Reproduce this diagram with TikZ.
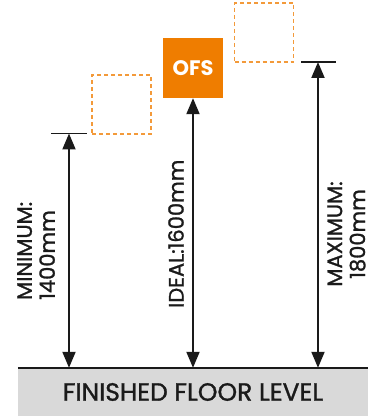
\documentclass[tikz,border=0pt]{standalone}
\usepackage{fontspec}
\setmainfont{Poppins}[UprightFeatures={FakeBold=1.2}]
\usetikzlibrary{arrows.meta}
\definecolor{ofsorange}{HTML}{EF7D00}
\definecolor{dashorange}{HTML}{F39A3A}
\definecolor{floorgray}{HTML}{D9D9D9}
\definecolor{inkdark}{HTML}{1A1A1A}

\begin{document}
\begin{tikzpicture}[
        x=1pt, y=1pt,
        ghost/.style={rectangle, draw=dashorange, line width=1.5pt, dash pattern=on 4pt off 3pt, minimum size=59pt, inner sep=0pt},
        ofsbox/.style={rectangle, fill=ofsorange, text=white, minimum size=60pt, inner sep=0pt, font=\fontsize{21}{23}\selectfont\bfseries},
        dim/.style={draw=inkdark, line width=2pt, {Triangle[length=16pt,width=13pt]}-{Triangle[length=16pt,width=13pt]}},
        tick/.style={draw=inkdark, line width=1.5pt},
        label_text/.style={rotate=90, inner sep=0pt, text=inkdark, font=\fontsize{21}{23}\selectfont}
    ]
        \useasboundingbox (0,0) rectangle (374,416);

        % Floor
        \node[rectangle, fill=floorgray, minimum width=350pt, minimum height=48pt, inner sep=0pt, text=inkdark, font=\fontsize{25}{27}\selectfont] (floor) at (193,24) {FINISHED FLOOR LEVEL};
        \draw[tick] (floor.north west) -- (floor.north east);

        % Outlet boxes
        \node[ghost] (lowbox) at (121.5,311.5) {};
        \node[ofsbox] (ofs) at (193,348) {OFS};
        \node[ghost] (highbox) at (264,383.5) {};

        % Tick marks
        \coordinate (minleft) at (51,282.5);
        \coordinate (minright) at (87,282.5);
        \coordinate (minmid) at (69,282.5);
        \coordinate (maxleft) at (301,354);
        \coordinate (maxright) at (336,354);
        \coordinate (maxmid) at (318,354);
        \draw[tick] (minleft) -- (minright);
        \draw[tick] (maxleft) -- (maxright);

        % Dimension arrows
        \draw[dim] (minmid) -- (minmid |- floor.north);
        \draw[dim] (ofs.south) -- (ofs.south |- floor.north);
        \draw[dim] (maxmid) -- (maxmid |- floor.north);

        % Labels
        \node[label_text, anchor=west, align=left] (minlabel) at (36,116) {MINIMUM:\\1400mm};
        \node[label_text, anchor=west] (ideallabel) at (176,108) {IDEAL:1600mm};
        \node[label_text, align=center] (maxlabel) at (346.5,182) {MAXIMUM:\\1800mm};

    \end{tikzpicture}
\end{document}
